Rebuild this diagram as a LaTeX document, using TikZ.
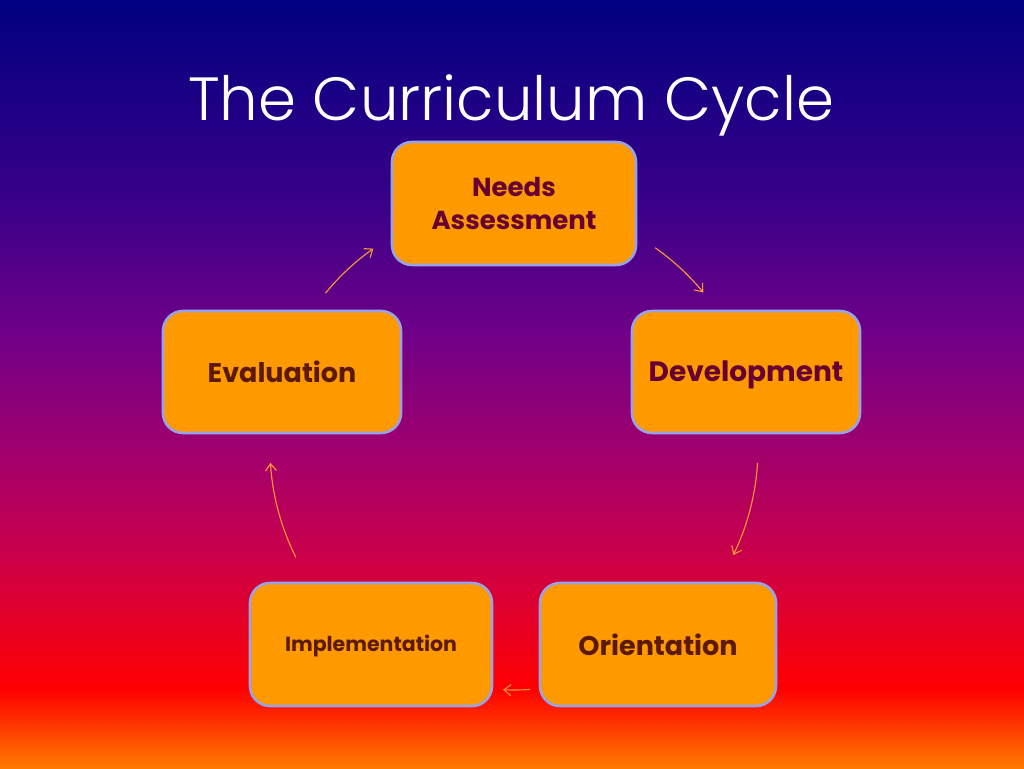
\documentclass[tikz,border=0pt]{standalone}
\usepackage{fontspec}
\setmainfont{Poppins}
\newfontfamily\titlefont{Poppins Light}
\usetikzlibrary{arrows.meta}
\definecolor{boxfill}{HTML}{FF9900}
\definecolor{boxline}{HTML}{9AA2E6}
\definecolor{txtA}{HTML}{660033}
\definecolor{txtB}{HTML}{5C1A05}
\definecolor{arrowc}{HTML}{FF9A33}
\definecolor{g0}{HTML}{000080}
\definecolor{g1}{HTML}{380088}
\definecolor{g2}{HTML}{6E0088}
\definecolor{g3}{HTML}{A0006E}
\definecolor{g4}{HTML}{CC0048}
\definecolor{g5}{HTML}{FF0000}
\definecolor{g6}{HTML}{FF7A00}
\tikzset{
  stage/.style={draw=boxline, line width=2.6pt, fill=boxfill, rounded corners=20pt,
    align=center, inner sep=0pt, font=\bfseries},
  stagetext/.style={inner sep=0pt, align=center},
  cyclearrow/.style={draw=arrowc, line width=1.1pt, -{Straight Barb[length=7pt,width=11pt]}}
}
\begin{document}
\begin{tikzpicture}[x=1pt,y=1pt]
\useasboundingbox (0,0) rectangle (1024,768);
% background gradient (y px -> 768-y)
\shade[top color=g0, bottom color=g1] (0,768) rectangle (1024,568);
\shade[top color=g1, bottom color=g2] (0,568.5) rectangle (1024,438);
\shade[top color=g2, bottom color=g3] (0,438.5) rectangle (1024,318);
\shade[top color=g3, bottom color=g4] (0,318.5) rectangle (1024,208);
\shade[top color=g4, bottom color=g5] (0,208.5) rectangle (1024,78);
\shade[top color=g5, bottom color=g6] (0,78.5) rectangle (1024,0);
% title
\node[anchor=base, text=white, font=\titlefont\fontsize{61}{66}\selectfont, inner sep=0pt] (title) at (511,647) {The Curriculum Cycle};
% stages
\node[stage, minimum width=244pt, minimum height=123pt, text=txtA, font=\bfseries\fontsize{26}{33}\selectfont] (needs) at (514,564.5) {Needs\\Assessment};
\node[stage, minimum width=228pt, minimum height=122pt] (dev) at (746,396) {};
\node[stagetext, text=txtA, font=\bfseries\fontsize{28}{30}\selectfont] (devtext) at (746,393) {Development};
\node[stage, minimum width=236pt, minimum height=123pt, text=txtB, font=\bfseries\fontsize{27}{32}\selectfont] (orient) at (658,123.5) {Orientation};
\node[stage, minimum width=242pt, minimum height=123pt] (impl) at (371,123.5) {};
\node[stagetext, text=txtB, font=\bfseries\fontsize{20.5}{24}\selectfont] (impltext) at (371,122) {Implementation};
\node[stage, minimum width=238pt, minimum height=122pt, text=txtB, font=\bfseries\fontsize{27}{30}\selectfont] (eval) at (282,396) {Evaluation};
% cycle arrows on a circle
\coordinate (c) at (514,320);
\path (c) ++(54.8:245) coordinate (a1);
\path (c) ++(-3.5:244) coordinate (a2);
\path (c) ++(-86.2:242) coordinate (a3);
\path (c) ++(206.6:244) coordinate (a4);
\path (c) ++(140.6:244) coordinate (a5);
\draw[cyclearrow] (a1) arc[start angle=54.8, end angle=39.4, radius=245];
\draw[cyclearrow] (a2) arc[start angle=-3.5, end angle=-26, radius=244];
\draw[cyclearrow] (a3) arc[start angle=-86.2, end angle=-92.6, radius=242];
\draw[cyclearrow] (a4) arc[start angle=206.6, end angle=183.5, radius=244];
\draw[cyclearrow] (a5) arc[start angle=140.6, end angle=125.2, radius=244];
\end{tikzpicture}
\end{document}
